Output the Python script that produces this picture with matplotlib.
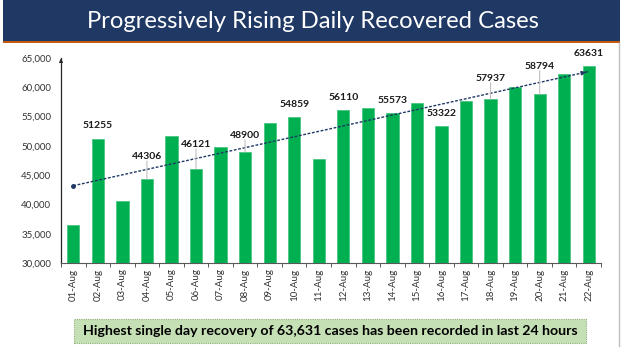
import matplotlib.pyplot as plt
import numpy as np
from matplotlib.patches import Rectangle, FancyBboxPatch
from matplotlib.lines import Line2D

# data
days = ['01-Aug', '02-Aug', '03-Aug', '04-Aug', '05-Aug', '06-Aug', '07-Aug', '08-Aug',
        '09-Aug', '10-Aug', '11-Aug', '12-Aug', '13-Aug', '14-Aug', '15-Aug', '16-Aug',
        '17-Aug', '18-Aug', '19-Aug', '20-Aug', '21-Aug', '22-Aug']
recovered = [36569, 51255, 40574, 44306, 51706, 46121, 49769, 48900, 53879, 54859, 47746,
             56110, 56383, 55573, 57381, 53322, 57584, 57937, 60091, 58794, 62282, 63631]
yticks = [30000, 35000, 40000, 45000, 50000, 55000, 60000, 65000]

title = 'Progressively Rising Daily Recovered Cases'
note = 'Highest single day recovery of 63,631 cases has been recorded in last 24 hours'

# labelled bars (every second day) and how far (pt) above the bar each label sits
label_idx = [1, 3, 5, 7, 9, 11, 13, 15, 17, 19, 21]
label_off = [6, 13, 14, 9, 6, 6, 6, 6, 12, 17, 6]

GREEN = '#00B050'
NAVY = '#1F3864'
FONT = 'Lato'

fig = plt.figure(figsize=(6.24, 3.49), dpi=100)
W, H = 624, 349

def fx(px):
    return px / W

def fy(py):
    return 1 - py / H

# title banner
fig.patches.append(Rectangle((fx(3), fy(41)), fx(617), 41 / H, transform=fig.transFigure,
                             facecolor=NAVY, edgecolor='none'))
fig.patches.append(Rectangle((fx(3), fy(43)), fx(617), 2 / H, transform=fig.transFigure,
                             facecolor='#C55A11', edgecolor='none'))
fig.text(fx(313), fy(21), title, color='white', fontsize=17.2, family=FONT,
         ha='center', va='center')
# slide frame on the right
fig.lines.append(Line2D([fx(619), fx(619)], [fy(43), fy(346)], transform=fig.transFigure,
                        color='#BFBFBF', lw=1))

ax = fig.add_axes([fx(61), fy(263), fx(601) - fx(61), fy(58) - fy(263)])
x = np.arange(len(days))
ax.bar(x, recovered, width=0.5, color=GREEN, edgecolor='#3CC47A', lw=0.5, zorder=2)

ax.set_xlim(-0.5, len(days) - 0.5)
ax.set_ylim(30000, 65000)
ax.set_yticks(yticks)
ax.set_yticklabels([f'{v:,}' for v in yticks], fontsize=7, family=FONT, color='#333333')
ax.tick_params(axis='y', length=0, pad=7)

ax.set_xticks(x)
ax.set_xticklabels(days, rotation=90, fontsize=7, family=FONT, color='#333333')
ax.tick_params(axis='x', length=0, pad=4)
# category boundary ticks
ax.set_xticks(np.arange(-0.5, len(days), 1), minor=True)
ax.tick_params(axis='x', which='minor', length=3, direction='out', color='#404040')

for s in ['top', 'right']:
    ax.spines[s].set_visible(False)
ax.spines['left'].set_color('#262626')
ax.spines['bottom'].set_color('#595959')
ax.spines['left'].set_linewidth(0.9)
ax.annotate('', xy=(-0.5, 65400), xytext=(-0.5, 64000),
            arrowprops=dict(arrowstyle='-|>', color='#262626', lw=0.8, mutation_scale=5),
            annotation_clip=False)

# linear trend
k, b = np.polyfit(x, recovered, 1)
t0, t1 = k * x[0] + b, k * x[-1] + b
ax.plot([x[0], x[-1]], [t0, t1], ls=(0, (2, 1.2)), color=NAVY, lw=1, zorder=3)
ax.plot(x[0], t0, 'o', color=NAVY, ms=2.5, zorder=3)
ax.annotate('', xy=(x[-1], t1), xytext=(x[-1] - 0.3, t1 - 0.3 * k),
            arrowprops=dict(arrowstyle='-|>', color=NAVY, lw=1, mutation_scale=6), zorder=3)

# value labels
for i, off in zip(label_idx, label_off):
    v = recovered[i]
    ax.annotate(str(v), (x[i], v), xytext=(0, off), textcoords='offset points',
                ha='center', va='bottom', fontsize=7.5, fontweight='bold', family=FONT,
                color='#1a1a1a', zorder=4)
    if off > 8:
        ax.annotate('', (x[i], v), xytext=(0, off), textcoords='offset points',
                    arrowprops=dict(arrowstyle='-', color='#BFBFBF', lw=0.8,
                                    shrinkA=0, shrinkB=0))

# note box
fig.patches.append(FancyBboxPatch((fx(74), fy(343)), fx(512), 24 / H,
                                  boxstyle='square,pad=0', transform=fig.transFigure,
                                  facecolor='#C5E0B4', edgecolor='#8FAF7A', lw=0.8,
                                  ls=(0, (1, 1))))
fig.text(fx(330), fy(331), note, fontsize=10.2, fontweight='bold', family=FONT,
         ha='center', va='center', color='black')

fig.savefig('out.png', dpi=100)
